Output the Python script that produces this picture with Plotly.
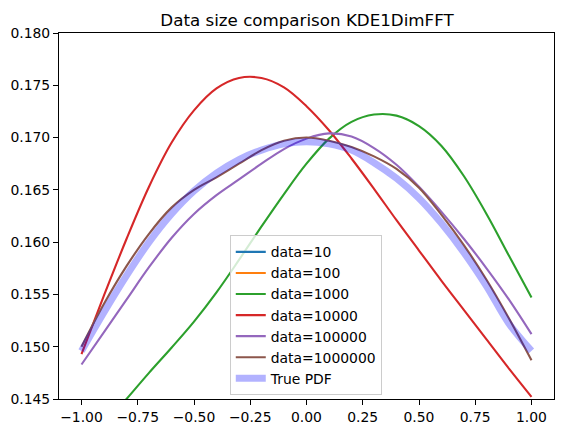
import plotly.graph_objects as go

# x grid of the evaluated densities
x_grid = [-1.0, -0.9, -0.8, -0.7, -0.6, -0.5, -0.4, -0.3, -0.2, -0.1, 0.0,
          0.1, 0.2, 0.3, 0.4, 0.5, 0.6, 0.7, 0.8, 0.9, 1.0]

# data=10 and data=100 lie outside the visible range (not readable)
kde_10 = []
kde_100 = []
kde_1000 = [0.1400, 0.1425, 0.1450, 0.1475, 0.1499, 0.1524, 0.1552, 0.1583, 0.1615,
            0.1646, 0.1675, 0.1699, 0.1715, 0.1722, 0.1721, 0.1711, 0.1692, 0.1663,
            0.1627, 0.1587, 0.1547]
kde_10000 = [0.1493, 0.1549, 0.1603, 0.1653, 0.1695, 0.1726, 0.1747, 0.1757, 0.1757,
             0.1748, 0.1730, 0.1707, 0.1680, 0.1651, 0.1621, 0.1592, 0.1563, 0.1535,
             0.1507, 0.1479, 0.1452]
kde_100000 = [0.1483, 0.1514, 0.1545, 0.1576, 0.1604, 0.1627, 0.1645, 0.1660, 0.1675,
              0.1689, 0.1699, 0.1704, 0.1701, 0.1690, 0.1674, 0.1653, 0.1629, 0.1603,
              0.1575, 0.1545, 0.1512]
kde_1000000 = [0.1500, 0.1541, 0.1577, 0.1608, 0.1633, 0.1650, 0.1662, 0.1675, 0.1688,
               0.1697, 0.1700, 0.1697, 0.1691, 0.1682, 0.1670, 0.1652, 0.1626, 0.1597,
               0.1564, 0.1527, 0.1487]
true_pdf = [0.1496, 0.1533, 0.1568, 0.1600, 0.1627, 0.1649, 0.1666, 0.1679, 0.1688,
            0.1694, 0.1696, 0.1694, 0.1688, 0.1676, 0.1661, 0.1642, 0.1618, 0.1590,
            0.1558, 0.1522, 0.1496]

series_names = ["data=10", "data=100", "data=1000", "data=10000", "data=100000", "data=1000000"]
series_values = [kde_10, kde_100, kde_1000, kde_10000, kde_100000, kde_1000000]
colors = ["#1f77b4", "#ff7f0e", "#2ca02c", "#d62728", "#9467bd", "#8c564b"]

fig = go.Figure()
for name, vals, c in zip(series_names, series_values, colors):
    if vals:
        xs, ys = x_grid, vals
    else:
        xs, ys = [None], [None]
    fig.add_trace(go.Scatter(x=xs, y=ys, mode="lines", name=name,
                             line=dict(color=c, width=2.1, shape="spline", smoothing=1.0)))
fig.add_trace(go.Scatter(x=x_grid, y=true_pdf, mode="lines", name="True PDF",
                         line=dict(color="rgba(0,0,255,0.3)", width=7, shape="spline")))

font = "DejaVu Sans, sans-serif"
axis_common = dict(showline=True, linecolor="black", linewidth=1, mirror=True,
                   ticks="outside", ticklen=5, tickwidth=1, tickcolor="black",
                   showgrid=False, zeroline=False,
                   tickfont=dict(family=font, size=13.9, color="black"))
fig.update_layout(
    width=565, height=435,
    margin=dict(l=59, r=10, t=33, b=33),
    paper_bgcolor="white", plot_bgcolor="white",
    title=dict(text="Data size comparison KDE1DimFFT", x=(59 + 248) / 565, xanchor="center",
               y=1 - 20 / 435, yanchor="middle",
               font=dict(family=font, size=16.7, color="black")),
    xaxis=dict(range=[-1.1, 1.1], tickvals=[-1.0, -0.75, -0.5, -0.25, 0.0, 0.25, 0.5, 0.75, 1.0],
               tickformat=".2f", **axis_common),
    yaxis=dict(range=[0.145, 0.180], tickvals=[0.145, 0.150, 0.155, 0.160, 0.165, 0.170, 0.175, 0.180],
               tickformat=".3f", **axis_common),
    legend=dict(x=0.345, y=0.01, xanchor="left", yanchor="bottom",
                bgcolor="rgba(255,255,255,0.8)", bordercolor="#cccccc", borderwidth=1,
                font=dict(family=font, size=13.9, color="black"), itemwidth=30,
                tracegroupgap=0),
    showlegend=True,
)
fig.write_html("out.html")
